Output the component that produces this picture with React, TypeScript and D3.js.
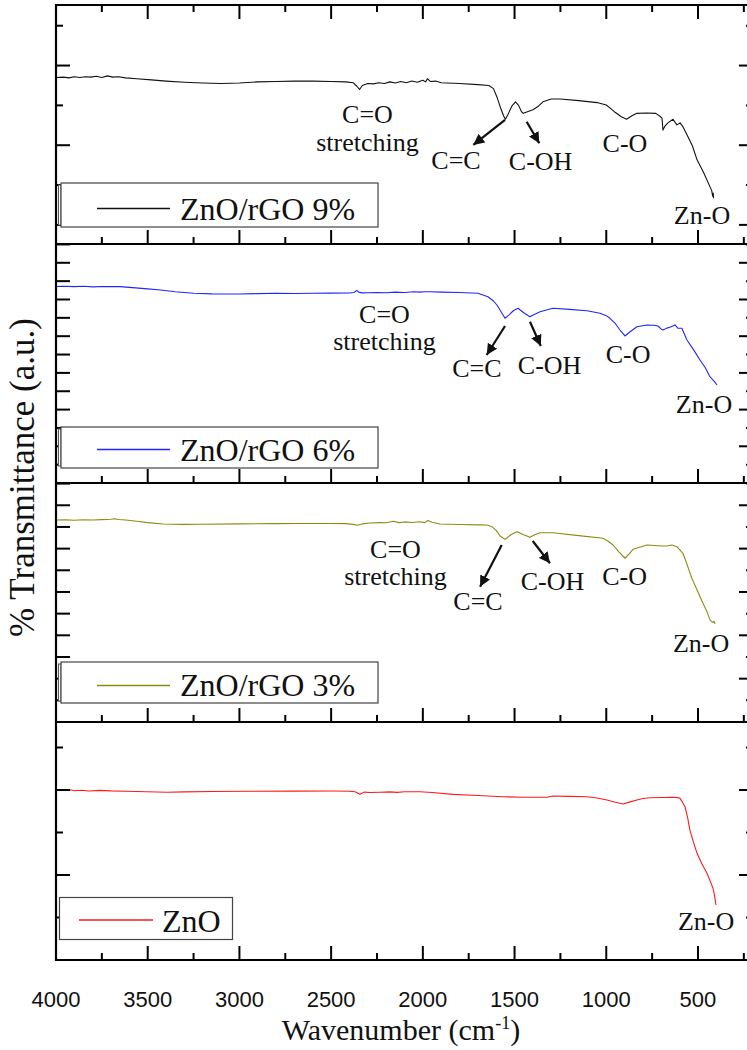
import React from 'react';
import * as d3 from 'd3';

const WIDTH = 747;
const HEIGHT = 1050;

// Wavenumber axis ticks (cm-1)
const xMajorTicks = [4000, 3500, 3000, 2500, 2000, 1500, 1000, 500];
const xMinorTicks = [3750, 3250, 2750, 2250, 1750, 1250, 750, 250];

// FTIR spectra: [wavenumber, % transmittance (a.u.)]
const rgo9: [number, number][] = [
  [4000, 68.5], [3960, 68.55], [3930, 68.45], [3900, 68.6], [3870, 68.5], [3840, 68.6], [3810, 68.55],
  [3780, 68.65], [3750, 68.5], [3720, 68.7], [3690, 68.55], [3660, 68.6], [3620, 68.45], [3560, 68.35],
  [3480, 68.2], [3400, 68.05], [3300, 67.9], [3200, 67.8], [3100, 67.75], [3000, 67.8], [2900, 67.95],
  [2800, 68.0], [2700, 68.05], [2600, 68.05], [2500, 68.0], [2420, 67.95], [2380, 67.85], [2360, 67.4],
  [2345, 67.0], [2330, 67.5], [2300, 67.75], [2270, 67.7], [2240, 67.85], [2210, 67.75], [2180, 67.95],
  [2150, 67.8], [2120, 68.0], [2090, 67.85], [2060, 68.05], [2030, 67.9], [2000, 68.15], [1985, 67.95],
  [1975, 68.35], [1960, 68.0], [1930, 68.05], [1900, 67.85], [1800, 67.75], [1700, 67.6], [1640, 67.5],
  [1615, 67.1], [1595, 66.0], [1575, 64.6], [1560, 63.7], [1550, 63.26], [1535, 63.9], [1515, 64.9],
  [1495, 65.45], [1478, 65.0], [1462, 64.2], [1452, 64.0], [1430, 64.2], [1400, 64.45], [1370, 64.9],
  [1345, 65.45], [1300, 65.8], [1250, 65.8], [1150, 65.6], [1050, 65.35], [1000, 65.05], [975, 64.6],
  [950, 64.1], [920, 63.6], [890, 63.26], [860, 63.7], [833, 64.0], [780, 64.05], [730, 64.0], [705, 63.6],
  [696, 63.4], [691, 61.9], [680, 62.4], [664, 62.8], [636, 63.26], [615, 62.55], [598, 62.8], [582, 62.33],
  [560, 61.3], [530, 59.9], [505, 58.16], [470, 56.6], [435, 54.8], [425, 54.3], [420, 53.6], [417, 54.0],
  [415, 53.35],
];

const rgo6: [number, number][] = [
  [4000, 66.77], [3960, 66.8], [3900, 66.75], [3850, 66.8], [3800, 66.72], [3750, 66.78], [3700, 66.75],
  [3650, 66.75], [3600, 66.65], [3500, 66.45], [3430, 66.29], [3350, 66.05], [3250, 65.85], [3150, 65.76],
  [3000, 65.75], [2900, 65.8], [2800, 65.85], [2700, 65.82], [2600, 65.86], [2500, 65.87], [2400, 65.89],
  [2375, 65.95], [2360, 66.25], [2350, 66.0], [2330, 65.9], [2300, 65.92], [2250, 65.95], [2200, 65.92],
  [2150, 66.0], [2100, 65.95], [2050, 66.05], [2016, 66.0], [1990, 66.05], [1961, 66.06], [1900, 66.0],
  [1800, 65.95], [1700, 65.85], [1645, 65.38], [1620, 64.9], [1596, 64.25], [1570, 63.2], [1552, 62.44],
  [1530, 62.9], [1505, 63.5], [1481, 63.8], [1450, 63.2], [1416, 62.66], [1390, 63.0], [1361, 63.34],
  [1291, 63.8], [1200, 63.65], [1105, 63.47], [1034, 63.12], [1000, 62.8], [980, 62.44], [950, 61.7],
  [925, 60.84], [898, 60.03], [870, 60.6], [833, 61.29], [778, 61.53], [740, 61.5], [718, 61.39],
  [700, 60.95], [691, 60.84], [670, 61.1], [653, 61.21], [625, 61.53], [609, 61.08], [588, 61.08],
  [560, 59.48], [520, 58.0], [489, 56.76], [460, 55.7], [435, 54.48], [410, 53.8], [396, 53.35],
];

const rgo3: [number, number][] = [
  [4000, 63.3], [3950, 63.32], [3900, 63.28], [3850, 63.33], [3800, 63.3], [3750, 63.35], [3700, 63.38],
  [3680, 63.45], [3660, 63.36], [3620, 63.3], [3560, 63.15], [3500, 63.0], [3417, 62.84], [3300, 62.8],
  [3215, 62.82], [3000, 62.86], [2800, 62.88], [2670, 62.9], [2500, 62.9], [2420, 62.88], [2380, 62.8],
  [2359, 62.7], [2330, 62.85], [2290, 62.95], [2234, 63.0], [2200, 62.98], [2160, 63.15], [2130, 63.0],
  [2100, 63.08], [2060, 63.02], [2016, 63.1], [1990, 63.0], [1972, 63.25], [1950, 63.05], [1907, 62.84],
  [1800, 62.78], [1700, 62.74], [1650, 62.72], [1623, 62.53], [1600, 62.1], [1579, 61.45], [1552, 61.07],
  [1520, 61.6], [1487, 61.95], [1450, 61.6], [1416, 61.3], [1390, 61.6], [1361, 61.83], [1291, 61.83],
  [1150, 61.5], [1018, 61.19], [990, 60.85], [963, 60.42], [930, 59.6], [898, 58.89], [875, 59.4],
  [854, 59.92], [778, 60.42], [700, 60.3], [669, 60.3], [642, 60.42], [615, 60.22], [582, 59.46],
  [560, 58.2], [533, 56.57], [500, 55.0], [473, 53.69], [450, 52.7], [435, 51.78], [420, 51.5],
  [412, 51.6], [407, 51.32],
];

const zno: [number, number][] = [
  [4000, 60.0], [3980, 60.05], [3950, 59.95], [3924, 60.02], [3900, 59.92], [3860, 59.97], [3820, 59.88],
  [3760, 59.96], [3700, 59.9], [3620, 59.86], [3504, 59.8], [3395, 59.73], [3300, 59.78], [3150, 59.82],
  [2942, 59.85], [2700, 59.87], [2490, 59.88], [2400, 59.86], [2370, 59.8], [2343, 59.49], [2320, 59.75],
  [2288, 59.7], [2234, 59.73], [2180, 59.78], [2140, 59.72], [2100, 59.8], [2016, 59.8], [1950, 59.7],
  [1836, 59.49], [1700, 59.35], [1563, 59.21], [1450, 59.15], [1323, 59.14], [1291, 59.29], [1200, 59.25],
  [1105, 59.21], [1050, 59.05], [996, 58.82], [950, 58.55], [909, 58.35], [870, 58.6], [833, 58.82],
  [800, 59.0], [762, 59.09], [700, 59.12], [636, 59.14], [610, 59.1], [598, 59.02], [585, 58.6],
  [571, 58.04], [557, 56.8], [544, 55.29], [525, 53.9], [505, 52.55], [478, 51.3], [451, 50.2],
  [430, 49.1], [418, 48.44], [410, 47.6], [402, 46.47],
];

// Band assignments: [text, wavenumber, transmittance] (text baseline, centred)
const labels9: [string, number, number][] = [
  ['C=O', 2302, 62.79], ['stretching', 2302, 59.27], ['C=C', 1819, 57.01],
  ['C-OH', 1358, 56.89], ['C-O', 898, 59.19], ['Zn-O', 478, 50.11],
];
const labels6: [string, number, number][] = [
  ['C=O', 2209, 61.8], ['stretching', 2209, 58.12], ['C=C', 1705, 54.48],
  ['C-OH', 1309, 54.85], ['C-O', 881, 56.35], ['Zn-O', 467, 49.54],
];
const labels3: [string, number, number][] = [
  ['C=O', 2149, 58.92], ['stretching', 2149, 55.81], ['C=C', 1699, 52.92],
  ['C-OH', 1293, 55.23], ['C-O', 900, 55.81], ['Zn-O', 483, 48.11],
];
const labelsZnO: [string, number, number][] = [['Zn-O', 456, 43.53]];

// Arrows: [fromWave, fromT, toWave, toT]
const arrows9: [number, number, number, number][] = [
  [1552, 63.17, 1725, 60.03], [1434, 62.95, 1365, 60.24],
];
const arrows6: [number, number, number, number][] = [
  [1552, 61.39, 1652, 57.44], [1416, 61.97, 1357, 58.66],
];
const arrows3: [number, number, number, number][] = [
  [1570, 60.42, 1688, 55.61], [1401, 60.88, 1307, 58.31],
];

const SERIF = "'Liberation Serif', Tinos, 'Times New Roman', Times, 'Nimbus Roman', 'DejaVu Serif', 'Noto Serif', serif";
const SANS = "'Liberation Sans', Arimo, Arial, sans-serif";

type Panel = {
  name: string;
  data: [number, number][];
  color: string;
  top: number;
  bottom: number;
  domain: [number, number];
  step: number;
  leftAllMajor: boolean;
  labels: [string, number, number][];
  arrows: [number, number, number, number][];
  legend: { x0: number; x1: number; y0: number; y1: number; l0: number; l1: number; ly: number; tx: number; ty: number; double: boolean };
};

const panels: Panel[] = [
  {
    name: 'ZnO/rGO 9%', data: rgo9, color: '#111111', top: 5, bottom: 244, domain: [47.6, 77.6], step: 10,
    leftAllMajor: false, labels: labels9, arrows: arrows9,
    legend: { x0: 61, x1: 378, y0: 183, y1: 227, l0: 97, l1: 170, ly: 208.5, tx: 180, ty: 220, double: true },
  },
  {
    name: 'ZnO/rGO 6%', data: rgo6, color: '#2424ff', top: 244, bottom: 483, domain: [40, 72.56], step: 5,
    leftAllMajor: true, labels: labels6, arrows: arrows6,
    legend: { x0: 61, x1: 378, y0: 427, y1: 468, l0: 97, l1: 170, ly: 449.5, tx: 180, ty: 461, double: true },
  },
  {
    name: 'ZnO/rGO 3%', data: rgo3, color: '#8c8c12', top: 483, bottom: 722, domain: [40, 67.57], step: 5,
    leftAllMajor: true, labels: labels3, arrows: arrows3,
    legend: { x0: 61, x1: 378, y0: 662, y1: 703, l0: 97, l1: 170, ly: 685.5, tx: 180, ty: 696, double: true },
  },
  {
    name: 'ZnO', data: zno, color: '#ff1a1a', top: 722, bottom: 960, domain: [40, 68], step: 10,
    leftAllMajor: false, labels: labelsZnO, arrows: [],
    legend: { x0: 59.5, x1: 232.5, y0: 897.5, y1: 939.5, l0: 79, l1: 153, ly: 920, tx: 162, ty: 932, double: false },
  },
];

const PLOT_LEFT = 56;
const x = d3.scaleLinear().domain([4000, 200]).range([PLOT_LEFT, 753]);
const RIGHT = x(200);
const MAJOR = 14;
const MINOR = 7;

function yTicks(domain: [number, number], step: number) {
  const [lo, hi] = domain;
  const half = step / 2;
  const major: number[] = [];
  const minor: number[] = [];
  for (let v = Math.ceil(lo / half) * half; v <= hi + 1e-9; v += half) {
    const r = Math.round(v * 1000) / 1000;
    if (Math.abs(r / step - Math.round(r / step)) < 1e-6) major.push(r);
    else minor.push(r);
  }
  return { major, minor };
}

function PanelView({ p }: { p: Panel }) {
  const y = d3.scaleLinear().domain(p.domain).range([p.bottom, p.top]);
  const line = d3.line<[number, number]>().x((d) => x(d[0])).y((d) => y(d[1]));
  const { major, minor } = yTicks(p.domain, p.step);
  const lg = p.legend;
  return (
    <g>
      <path d={line(p.data) || ''} fill="none" stroke={p.color} strokeWidth={1.1} strokeLinejoin="round" />
      {p.labels.map(([t, w, v], i) => (
        <text key={i} x={x(w)} y={y(v)} textAnchor="middle" fontFamily={SERIF} fontSize={26} fill="#111">
          {t}
        </text>
      ))}
      {p.arrows.map(([w0, v0, w1, v1], i) => (
        <line key={i} x1={x(w0)} y1={y(v0)} x2={x(w1)} y2={y(v1)} stroke="#111" strokeWidth={2.2} markerEnd="url(#arrowHead)" />
      ))}
      {major.map((v) => (
        <g key={'M' + v}>
          <line x1={PLOT_LEFT} x2={PLOT_LEFT + MAJOR} y1={y(v)} y2={y(v)} stroke="#000" strokeWidth={2} />
          <line x1={RIGHT} x2={RIGHT - MAJOR} y1={y(v)} y2={y(v)} stroke="#000" strokeWidth={2} />
        </g>
      ))}
      {minor.map((v) => (
        <g key={'m' + v}>
          <line x1={PLOT_LEFT} x2={PLOT_LEFT + (p.leftAllMajor ? MAJOR : MINOR)} y1={y(v)} y2={y(v)} stroke="#000" strokeWidth={2} />
          <line x1={RIGHT} x2={RIGHT - MINOR} y1={y(v)} y2={y(v)} stroke="#000" strokeWidth={2} />
        </g>
      ))}
      {xMajorTicks.map((w) => (
        <line key={'xM' + w} x1={x(w)} x2={x(w)} y1={p.bottom} y2={p.bottom - MAJOR} stroke="#000" strokeWidth={2} />
      ))}
      {xMinorTicks.map((w) => (
        <line key={'xm' + w} x1={x(w)} x2={x(w)} y1={p.bottom} y2={p.bottom - MINOR} stroke="#000" strokeWidth={2} />
      ))}
      {lg.double && (
        <rect x={lg.x0 - 2.5} y={lg.y0 + 2} width={2.5} height={lg.y1 - lg.y0 - 4} fill="#fff" stroke="#555" strokeWidth={1} />
      )}
      <rect x={lg.x0} y={lg.y0} width={lg.x1 - lg.x0} height={lg.y1 - lg.y0} fill="#fff" stroke="#444" strokeWidth={1.2} />
      <line x1={lg.l0} x2={lg.l1} y1={lg.ly} y2={lg.ly} stroke={p.color} strokeWidth={1.3} />
      <text x={lg.tx} y={lg.ty} fontFamily={SERIF} fontSize={32} fill="#111">
        {p.name}
      </text>
      <line x1={PLOT_LEFT - 1} x2={RIGHT + 1} y1={p.bottom} y2={p.bottom} stroke="#000" strokeWidth={2.2} />
    </g>
  );
}

export default function App() {
  const top = panels[0].top;
  const bottom = panels[panels.length - 1].bottom;
  return (
    <div style={{ position: 'absolute', left: 0, top: 0, width: WIDTH, height: HEIGHT, background: '#fff' }}>
      <svg width={WIDTH} height={HEIGHT} viewBox={`0 0 ${WIDTH} ${HEIGHT}`} style={{ display: 'block' }}>
        <defs>
          <marker id="arrowHead" markerUnits="userSpaceOnUse" markerWidth={11} markerHeight={11} refX={10} refY={5} orient="auto" viewBox="0 0 10 10">
            <path d="M0,0 L10,5 L0,10 Z" fill="#111" />
          </marker>
        </defs>
        <rect x={0} y={0} width={WIDTH} height={HEIGHT} fill="#fff" />
        {panels.map((p) => (
          <PanelView key={p.name} p={p} />
        ))}
        {xMajorTicks.map((w) => (
          <line key={'tM' + w} x1={x(w)} x2={x(w)} y1={top} y2={top + MAJOR} stroke="#000" strokeWidth={2} />
        ))}
        {xMinorTicks.map((w) => (
          <line key={'tm' + w} x1={x(w)} x2={x(w)} y1={top} y2={top + MINOR} stroke="#000" strokeWidth={2} />
        ))}
        <line x1={PLOT_LEFT - 1} x2={RIGHT + 1} y1={top} y2={top} stroke="#000" strokeWidth={2.2} />
        <line x1={PLOT_LEFT} x2={PLOT_LEFT} y1={top - 1} y2={bottom + 1} stroke="#000" strokeWidth={2.2} />
        <line x1={RIGHT} x2={RIGHT} y1={top - 1} y2={bottom + 1} stroke="#000" strokeWidth={2.2} />
        {xMajorTicks.map((w) => (
          <text key={'xl' + w} x={x(w)} y={1007} textAnchor="middle" fontFamily={SANS} fontSize={22} fill="#111">
            {w}
          </text>
        ))}
        <text x={401} y={1040} textAnchor="middle" fontFamily={SERIF} fontSize={30} fill="#111">
          Wavenumber (cm
          <tspan dy={-11} fontSize={18}>-1</tspan>
          <tspan dy={11}>)</tspan>
        </text>
        <text
          transform={`translate(34, ${(top + bottom) / 2 - 5}) rotate(-90)`}
          textAnchor="middle"
          fontFamily={SERIF}
          fontSize={35}
          fill="#111"
        >
          % Transmittance (a.u.)
        </text>
      </svg>
    </div>
  );
}
